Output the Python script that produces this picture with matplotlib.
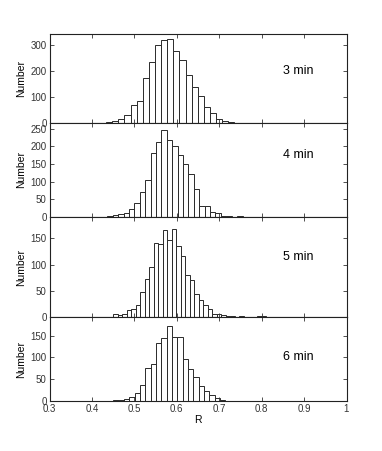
import matplotlib
matplotlib.use("Agg")
import matplotlib.pyplot as plt
import numpy as np

plt.rcParams['font.family'] = ['Liberation Sans', 'DejaVu Sans']

# ---- data ----
labels = ["3 min", "4 min", "5 min", "6 min"]
bin_start = [0.4335, 0.4364, 0.4506, 0.4505]
bin_width = [0.01439, 0.01274, 0.010613, 0.01258]
counts_3 = [3, 9, 14, 31, 68, 83, 172, 234, 300, 318, 322, 277, 243, 183, 140,
            102, 63, 37, 17, 9, 4, 1, 1, 1, 1, 1, 0, 0, 0, 1]
counts_4 = [2, 7, 9, 11, 24, 40, 72, 105, 181, 212, 246, 217, 200, 175, 151,
            121, 79, 31, 31, 15, 11, 4, 3, 1, 2, 1, 0, 1, 0, 1]
counts_5 = [5, 3, 5, 13, 16, 22, 47, 73, 95, 141, 139, 167, 147, 168, 136, 116,
            81, 70, 44, 32, 22, 15, 5, 5, 4, 1, 1, 0, 1, 0, 0, 0, 1, 1]
counts_6 = [2, 3, 4, 9, 19, 36, 75, 85, 134, 145, 173, 148, 147, 97, 74, 54,
            34, 22, 13, 7, 3, 1, 1, 0, 0, 0, 0, 1]
all_counts = [counts_3, counts_4, counts_5, counts_6]
y_max = [342, 266, 191, 193]
y_ticks = [[0, 100, 200, 300], [0, 50, 100, 150, 200, 250],
           [0, 50, 100, 150], [0, 50, 100, 150]]
label_y = [200, 175, 115, 100]
x_ticks = [0.3, 0.4, 0.5, 0.6, 0.7, 0.8, 0.9, 1.0]
x_tick_labels = ["0.3", "0.4", "0.5", "0.6", "0.7", "0.8", "0.9", "1"]

W, H = 382, 451
fig = plt.figure(figsize=(W / 100, H / 100), dpi=100)
left_px, right_px = 49.5, 346.5
panel_px = [(34, 123), (123, 217), (217, 317), (317, 401)]

for i in range(4):
    top, bot = panel_px[i]
    ax = fig.add_axes([left_px / W, 1 - bot / H, (right_px - left_px) / W, (bot - top) / H])
    counts = np.array(all_counts[i])
    edges = bin_start[i] + bin_width[i] * np.arange(len(counts))
    ax.bar(edges, counts, width=bin_width[i], align='edge', facecolor='white',
           edgecolor='#2a2a2a', linewidth=0.7)
    ax.set_xlim(0.3, 1.0)
    ax.set_ylim(0, y_max[i])
    ax.set_yticks(y_ticks[i])
    ax.set_xticks(x_ticks)
    ax.tick_params(direction='in', top=True, right=True, length=3, width=0.6,
                   labelsize=7, pad=2, colors='#333333')
    if i < 3:
        ax.set_xticklabels([])
    else:
        ax.set_xticklabels(x_tick_labels)
        ax.set_xlabel("R", fontsize=7.5, labelpad=1)
    ax.set_ylabel("Number", fontsize=7.5)
    ax.yaxis.set_label_coords(-0.078, 0.5)
    for s in ax.spines.values():
        s.set_linewidth(0.8)
        s.set_color('#222222')
    ax.text(0.85, label_y[i], labels[i], fontsize=9, ha='left', va='center')

fig.savefig("out.png", dpi=100)
